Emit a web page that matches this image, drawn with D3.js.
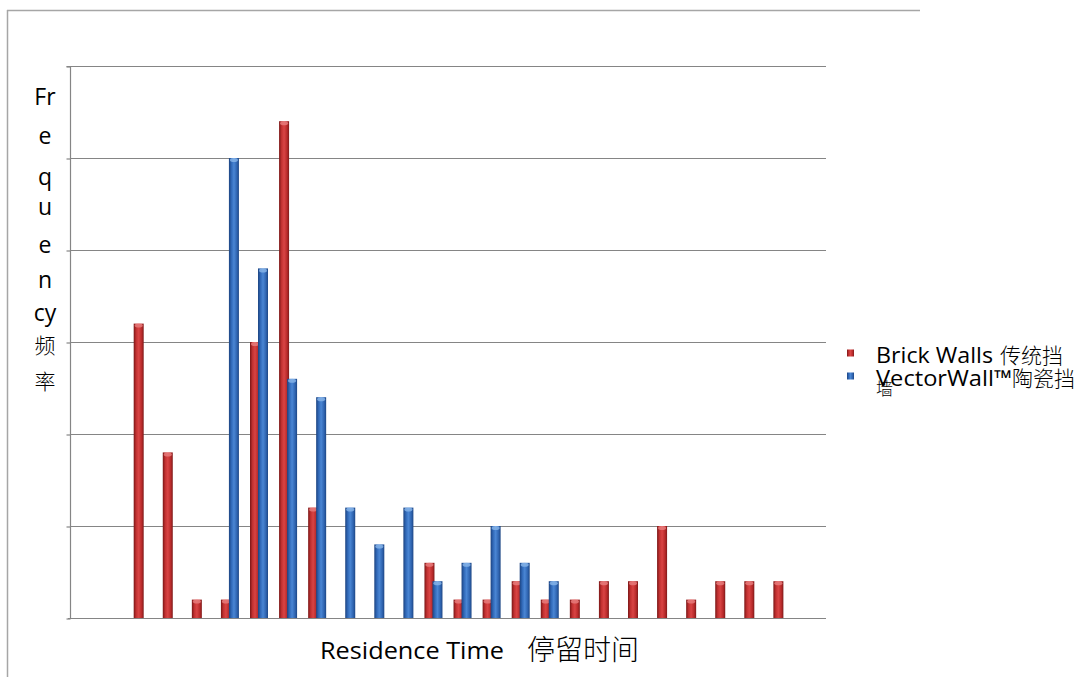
<!DOCTYPE html>
<html><head><meta charset="utf-8">
<script src="https://cdn.jsdelivr.net/npm/d3@7"></script>
<style>
html,body{margin:0;padding:0;background:#fff;}
svg{display:block;}
</style></head>
<body>
<svg id="chart" width="1081" height="677"></svg>
<script>
const categories = d3.range(1, 27).map(String);
const brickWalls = [0,0,16,9,1,1,15,27,6,0,0,0,3,1,1,2,1,1,2,2,5,1,2,2,2,0];
const vectorWall = [0,0,0,0,0,25,19,13,12,6,4,6,2,3,5,3,2,0,0,0,0,0,0,0,0,0];
const yTicks = [0,5,10,15,20,25,30];
const seriesNames = ["Brick Walls 传统挡", "VectorWall™陶瓷挡"];
const yTitleParts = ["Fr","e","q","u","e","n","cy","频","率"];

const svg = d3.select("#chart");
const latin = "'Open Sans', 'Noto Sans', sans-serif";
const cjk = "'Noto Sans CJK SC', sans-serif";

const M = {left:70, right:826, top:66, bottom:618};
const x = d3.scaleBand().domain(categories).range([M.left, M.right]).paddingInner(0).paddingOuter(0);
const y = d3.scaleLinear().domain([0,30]).range([M.bottom, M.top]);

const defs = svg.append("defs");
function grad(id, stops){
  const g = defs.append("linearGradient").attr("id", id).attr("x1","0").attr("x2","1").attr("y1","0").attr("y2","0");
  stops.forEach(s => g.append("stop").attr("offset", s[0]).attr("stop-color", s[1]));
}
grad("gRed", [[0,"#7a1616"],[0.25,"#c23131"],[0.5,"#d94444"],[0.8,"#b82a2a"],[1,"#7e1a1a"]]);
grad("gBlue", [[0,"#1c4380"],[0.25,"#3169b8"],[0.5,"#4a86d4"],[0.8,"#2f64b0"],[1,"#1d4684"]]);

// outer frame
svg.append("line").attr("x1",7).attr("x2",920).attr("y1",10.5).attr("y2",10.5).attr("stroke","#a6a6a6").attr("stroke-width",1.5);
svg.append("line").attr("x1",7.5).attr("x2",7.5).attr("y1",10).attr("y2",677).attr("stroke","#a6a6a6").attr("stroke-width",1.5);

// gridlines
svg.append("g").selectAll("line").data(yTicks.slice(1)).join("line")
  .attr("x1",M.left).attr("x2",M.right)
  .attr("y1",d=>Math.round(y(d))+0.5).attr("y2",d=>Math.round(y(d))+0.5)
  .attr("stroke","#858585").attr("stroke-width",1.2);

// y axis
const yAxis = d3.axisLeft(y).tickValues(yTicks).tickSize(4).tickFormat("");
const gy = svg.append("g").attr("transform",`translate(${M.left+0.5},0.5)`).call(yAxis);
gy.select(".domain").attr("stroke","#858585").attr("stroke-width",1.2).attr("d",`M-4,${M.top}H0V${M.bottom}`);
gy.selectAll(".tick line").attr("stroke","#858585").attr("stroke-width",1.2);

// x axis baseline
const xAxis = d3.axisBottom(x).tickSize(0).tickFormat("");
const gx = svg.append("g").attr("transform",`translate(0,${M.bottom+0.5})`).call(xAxis);
gx.select(".domain").attr("stroke","#858585").attr("stroke-width",1.2).attr("d",`M${M.left-2},0H${M.right}`);

// bars
const barW = 10, off = 8;
function drawSeries(vals, fillId, capColor, dx){
  const g = svg.append("g");
  const data = vals.map((v,i)=>({c:categories[i], v})).filter(d=>d.v>0);
  g.selectAll("rect").data(data).join("rect")
    .attr("x", d => x(d.c) + x.bandwidth()/2 + dx - barW/2)
    .attr("y", d => y(d.v))
    .attr("width", barW)
    .attr("height", d => y(0) - y(d.v))
    .attr("fill", `url(#${fillId})`);
  g.selectAll("ellipse").data(data).join("ellipse")
    .attr("cx", d => x(d.c) + x.bandwidth()/2 + dx)
    .attr("cy", d => y(d.v)+2)
    .attr("rx", barW/2-1).attr("ry", 2)
    .attr("fill", capColor).attr("opacity",0.8);
}
drawSeries(brickWalls, "gRed", "#e98080", -off/2);
drawSeries(vectorWall, "gBlue", "#8ab6ea", off/2);

// y title
const yPos = [97,136,177,207,245,280,313,345,381];
svg.append("g").selectAll("text").data(yTitleParts).join("text")
  .attr("x",45).attr("y",(d,i)=>yPos[i]+8)
  .attr("text-anchor","middle")
  .attr("font-family",(d,i)=> i>=7 ? cjk : latin)
  .attr("font-size",(d,i)=> i>=7 ? 21 : 23)
  .attr("font-weight",(d,i)=> i>=7 ? 300 : 400)
  .attr("fill","#000")
  .text(d=>d);

// x title
svg.append("text").attr("x",320).attr("y",659).attr("fill","#000")
  .attr("font-family",latin).attr("font-size",24)
  .attr("textLength",184).attr("lengthAdjust","spacingAndGlyphs")
  .text("Residence Time");
svg.append("text").attr("x",527).attr("y",660).attr("fill","#000")
  .attr("font-family",cjk).attr("font-size",28).attr("font-weight",300)
  .text("停留时间");

// legend
const leg = svg.append("g");
const legY = [353, 376];
const legColors = ["gRed","gBlue"];
const latinW = [117, 136];
leg.selectAll("rect").data(seriesNames).join("rect")
  .attr("x",847).attr("y",(d,i)=>legY[i]-3.5).attr("width",7).attr("height",7)
  .attr("fill",(d,i)=>`url(#${legColors[i]})`);
leg.selectAll("text.lab").data(seriesNames).join("text").attr("class","lab")
  .attr("fill","#000")
  .each(function(d,i){
    const t = d3.select(this);
    const latinPart = d.replace(/[\u4e00-\u9fff]+$/,"").trim();
    const cjkPart = d.slice(d.replace(/[\u4e00-\u9fff]+$/,"").length);
    t.append("tspan").attr("x",876).attr("y",legY[i]+10)
      .attr("font-family",latin).attr("font-size",22)
      .attr("textLength",latinW[i]).attr("lengthAdjust","spacingAndGlyphs").text(latinPart);
    t.append("tspan").attr("x",876+latinW[i]+(i===0?7:0)).attr("y",legY[i]+10)
      .attr("font-family",cjk).attr("font-size",21).attr("font-weight",300).text(cjkPart);
  });
leg.append("text").attr("x",876).attr("y",395).attr("font-family",cjk).attr("font-size",17).attr("font-weight",300).attr("fill","#000").text("墙");
</script>
</body></html>
